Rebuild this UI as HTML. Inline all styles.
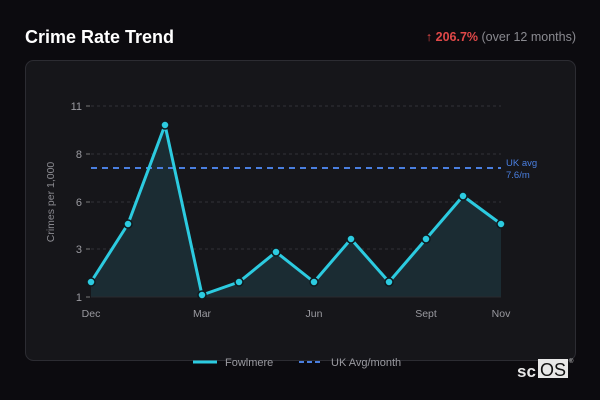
<!DOCTYPE html>
<html><head><meta charset="utf-8"><style>
html,body{margin:0;padding:0;background:#0c0b0f;width:600px;height:400px;overflow:hidden;font-family:"Liberation Sans","DejaVu Sans",sans-serif}
</style></head><body>
<svg width="600" height="400" viewBox="0 0 600 400" xmlns="http://www.w3.org/2000/svg" style="position:absolute;left:0;top:0">
<rect x="0" y="0" width="600" height="400" fill="#0c0b0f"/>
<text x="25" y="43" font-size="18" font-weight="bold" fill="#ffffff">Crime Rate Trend</text>
<text x="576" y="41" font-size="12.5" text-anchor="end" fill="#8a8a90"><tspan fill="#e04848">↑ </tspan><tspan fill="#e04848" font-weight="bold">206.7%</tspan> (over 12 months)</text>
<rect x="25.5" y="60.5" width="550" height="300" rx="8" fill="#16161a" stroke="#2c2c32"/>
<g stroke="#333338" stroke-dasharray="3,3" stroke-width="1">
<line x1="91" y1="106" x2="501" y2="106"/><line x1="91" y1="154" x2="501" y2="154"/>
<line x1="91" y1="202" x2="501" y2="202"/><line x1="91" y1="249" x2="501" y2="249"/>
</g>
<g stroke="#777" stroke-width="1">
<line x1="86" y1="106" x2="90" y2="106"/><line x1="86" y1="154" x2="90" y2="154"/>
<line x1="86" y1="202" x2="90" y2="202"/><line x1="86" y1="249" x2="90" y2="249"/><line x1="86" y1="297" x2="90" y2="297"/>
</g>
<g font-size="11" fill="#9a9aa0" text-anchor="end">
<text x="82" y="110">11</text><text x="82" y="158">8</text><text x="82" y="206">6</text><text x="82" y="253">3</text><text x="82" y="301">1</text>
</g>
<text transform="translate(54,202) rotate(-90)" font-size="10.5" fill="#8a8a90" text-anchor="middle">Crimes per 1,000</text>
<g font-size="10.5" fill="#9a9aa0" text-anchor="middle">
<text x="91" y="317">Dec</text><text x="202" y="317">Mar</text><text x="314" y="317">Jun</text><text x="426" y="317">Sept</text><text x="501" y="317">Nov</text>
</g>
<polygon fill="#1b2c33" points="91,297 91,282 128,224 165,125 202,295 239,282 276,252 314,282 351,239 389,282 426,239 463,196 501,224 501,297"/>
<line x1="91" y1="297" x2="501" y2="297" stroke="#2a2a2f"/>
<line x1="91" y1="168" x2="501" y2="168" stroke="#4a7fe0" stroke-width="2" stroke-dasharray="6,5"/>
<text x="506" y="166" font-size="9.5" fill="#4a7fe0">UK avg</text>
<text x="506" y="178" font-size="9.5" fill="#4a7fe0">7.6/m</text>
<polyline fill="none" stroke="#2ccbe0" stroke-width="3" stroke-linejoin="round" points="91,282 128,224 165,125 202,295 239,282 276,252 314,282 351,239 389,282 426,239 463,196 501,224"/>
<g fill="#2ccbe0" stroke="#0f1a1e" stroke-width="1.5">
<circle cx="91" cy="282" r="4"/><circle cx="128" cy="224" r="4"/><circle cx="165" cy="125" r="4"/><circle cx="202" cy="295" r="4"/><circle cx="239" cy="282" r="4"/><circle cx="276" cy="252" r="4"/><circle cx="314" cy="282" r="4"/><circle cx="351" cy="239" r="4"/><circle cx="389" cy="282" r="4"/><circle cx="426" cy="239" r="4"/><circle cx="463" cy="196" r="4"/><circle cx="501" cy="224" r="4"/>
</g>
<rect x="190" y="354" width="230" height="16" fill="#0c0b0f" opacity="0"/>
<line x1="193" y1="362" x2="217" y2="362" stroke="#2ccbe0" stroke-width="3"/>
<text x="225" y="366" font-size="11" fill="#9a9aa0">Fowlmere</text>
<line x1="299" y1="362" x2="323" y2="362" stroke="#4a7fe0" stroke-width="2" stroke-dasharray="5,3"/>
<text x="331" y="366" font-size="11" fill="#9a9aa0">UK Avg/month</text>
<text x="517" y="377" font-size="17" font-weight="bold" fill="#e8e8e8">sc</text>
<rect x="538" y="359" width="30" height="19" fill="#e8e8e8"/>
<text x="540" y="376" font-size="18" fill="#111">OS</text>
<text x="569" y="363" font-size="6" fill="#ccc">®</text>
</svg>
</body></html>
